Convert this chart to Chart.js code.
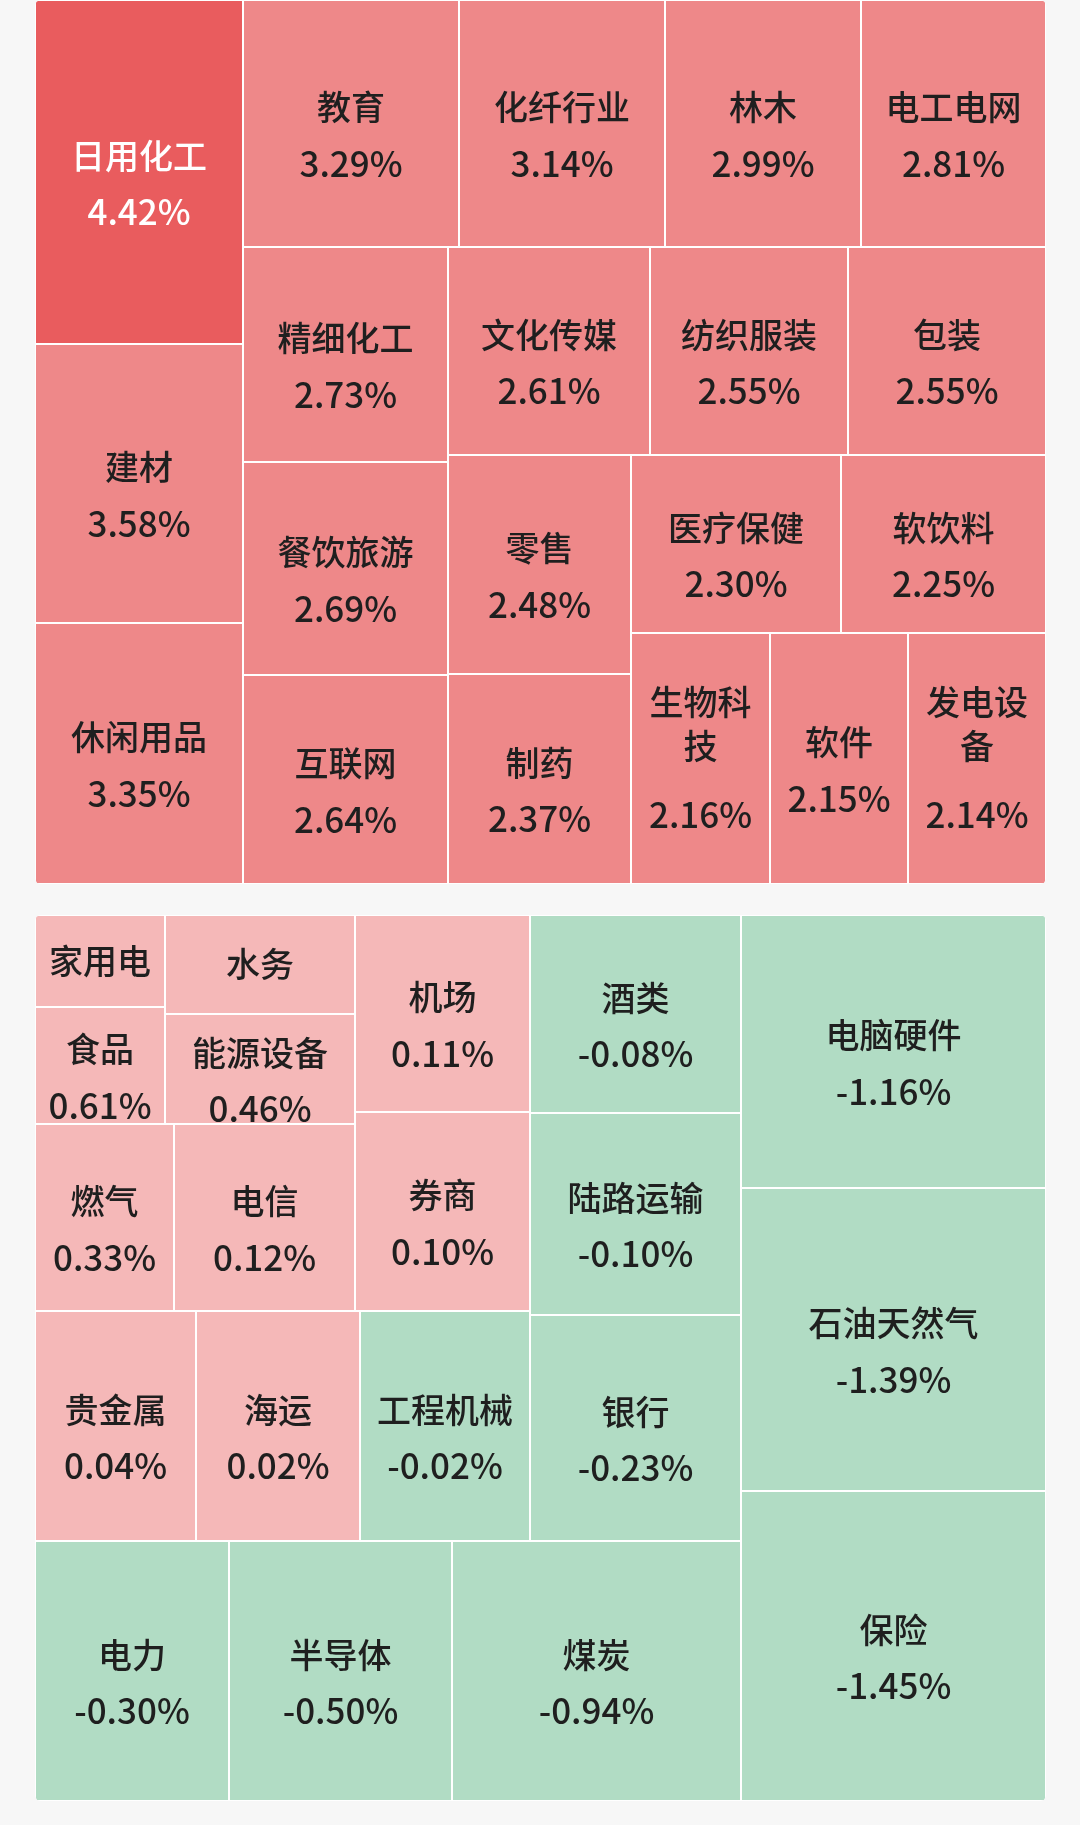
<!DOCTYPE html>
<html lang="zh-CN">
<head>
<meta charset="utf-8">
<title>行业涨跌分布</title>
<script src="https://cdn.jsdelivr.net/npm/chart.js@4.4.1/dist/chart.umd.min.js"></script>
<style>
    html, body { margin: 0; padding: 0; background: #f7f7f7; }
    body { width: 1080px; height: 1825px; position: relative; overflow: hidden; }
    #upChart { position: absolute; left: 35px; top: 0; }
    #downChart { position: absolute; left: 35px; top: 915px; }
</style>
</head>
<body>
<canvas id="upChart" width="1011" height="884"></canvas>
<canvas id="downChart" width="1011" height="886"></canvas>
<script>
// 涨幅较大的行业 (面积按涨幅)
const upNames = ['日用化工', '建材', '休闲用品', '教育', '化纤行业', '林木', '电工电网', '精细化工', '餐饮旅游', '互联网',
    '文化传媒', '纺织服装', '包装', '零售', '制药', '医疗保健', '软饮料', '生物科技', '软件', '发电设备'];
const upChanges = [4.42, 3.58, 3.35, 3.29, 3.14, 2.99, 2.81, 2.73, 2.69, 2.64,
    2.61, 2.55, 2.55, 2.48, 2.37, 2.30, 2.25, 2.16, 2.15, 2.14];

// 其余行业 (面积按 1 - 涨幅)
const downNames = ['保险', '石油天然气', '电脑硬件', '煤炭', '半导体', '电力', '银行', '陆路运输', '酒类', '工程机械',
    '海运', '贵金属', '券商', '机场', '电信', '燃气', '能源设备', '水务', '食品', '家用电器'];
const downChanges = [-1.45, -1.39, -1.16, -0.94, -0.50, -0.30, -0.23, -0.10, -0.08, -0.02,
    0.02, 0.04, 0.10, 0.11, 0.12, 0.33, 0.46, 0.51, 0.61, 0.69];

const NAME_FONT = '500 34px "Noto Sans CJK SC", "Noto Sans", sans-serif';
const VALUE_FONT = '500 35px "Noto Sans CJK SC", "Noto Sans", sans-serif';

function colorFor(v) {
    if (v >= 4) return '#e95c5e';
    if (v >= 2) return '#ee8889';
    if (v > 0) return '#f5b8b8';
    return '#b1dcc4';
}

// squarify: keep adding to the strip while the newest cell gets squarer
function squarify(weights, W, H) {
    const total = weights.reduce((a, b) => a + b, 0);
    const areas = weights.map(v => v * W * H / total);
    const aspect = (a, s, side) => {
        const t = s / side, l = a / t;
        return Math.max(t / l, l / t);
    };
    const out = [];
    let x = 0, y = 0, w = W, h = H, i = 0;
    while (i < areas.length) {
        const column = h < w;
        const side = column ? h : w;
        let sum = areas[i], best = aspect(areas[i], sum, side), j = i + 1;
        while (j < areas.length) {
            const next = aspect(areas[j], sum + areas[j], side);
            if (next > best) break;
            best = next;
            sum += areas[j];
            j++;
        }
        const thick = j === areas.length ? (column ? w : h) : sum / side;
        let off = 0;
        for (let k = i; k < j; k++) {
            const len = areas[k] / thick;
            out.push(column
                ? { x0: x, x1: x + thick, y0: y + off, y1: y + off + len }
                : { x0: x + off, x1: x + off + len, y0: y, y1: y + thick });
            off += len;
        }
        if (column) { x += thick; w -= thick; } else { y += thick; h -= thick; }
        i = j;
    }
    return out;
}

function wrapText(ctx, text, maxW) {
    const lines = [];
    let cur = '';
    for (const ch of text) {
        if (cur && ctx.measureText(cur + ch).width > maxW) {
            lines.push(cur);
            cur = ch;
        } else {
            cur += ch;
        }
    }
    lines.push(cur);
    return lines;
}

function drawLabel(ctx, c, l, t, r, b) {
    const w = r - l, h = b - t, cx = (l + r) / 2, cy = (t + b) / 2 - 3;
    ctx.save();
    ctx.beginPath();
    ctx.rect(l + 1, t + 1, w - 2, h - 2);
    ctx.clip();
    ctx.font = NAME_FONT;
    ctx.textAlign = 'center';
    ctx.textBaseline = 'middle';
    ctx.fillStyle = c.value >= 4 ? '#ffffff' : '#1f1f1f';
    const lines = wrapText(ctx, c.name, w - 16);
    const valueText = c.value.toFixed(2) + '%';
    let valueY;
    if (h < 105) {
        ctx.fillText(lines[0], cx, cy + 3);
    } else if (lines.length === 1) {
        ctx.fillText(lines[0], cx, cy - 13);
        valueY = cy + 43;
    } else {
        lines.forEach((s, k) => ctx.fillText(s, cx, cy - 53 + 44 * k));
        valueY = cy - 53 + 44 * (lines.length - 1) + 68;
    }
    if (valueY !== undefined) {
        ctx.font = VALUE_FONT;
        ctx.fillText(valueText, cx, valueY);
    }
    ctx.restore();
}

const treemapCells = {
    id: 'treemapCells',
    beforeDatasetsDraw(chart) {
        const { ctx, chartArea: a, scales: { x, y } } = chart;
        ctx.save();
        ctx.beginPath();
        ctx.roundRect(a.left, a.top, a.right - a.left, a.bottom - a.top, 6);
        ctx.fillStyle = '#ffffff';
        ctx.fill();
        ctx.clip();
        chart.data.datasets[0].data.forEach(c => {
            const px = [x.getPixelForValue(c.x0), x.getPixelForValue(c.x1)];
            const py = [y.getPixelForValue(c.y0), y.getPixelForValue(c.y1)];
            const l = Math.round(Math.min(...px)), r = Math.round(Math.max(...px));
            const t = Math.round(Math.min(...py)), b = Math.round(Math.max(...py));
            ctx.fillStyle = colorFor(c.value);
            ctx.fillRect(l + 1, t + 1, r - l - 2, b - t - 2);
            drawLabel(ctx, c, l, t, r, b);
        });
        ctx.restore();
    }
};

function makeTreemap(id, names, changes, weights, flip) {
    const canvas = document.getElementById(id);
    const W = canvas.width, H = canvas.height;
    const cells = squarify(weights, W, H).map((r, i) => ({
        ...r,
        x: (r.x0 + r.x1) / 2,
        y: (r.y0 + r.y1) / 2,
        name: names[i],
        value: changes[i]
    }));
    return new Chart(canvas, {
        type: 'scatter',
        data: { datasets: [{ data: cells, pointRadius: 0, pointHoverRadius: 0 }] },
        options: {
            responsive: false,
            animation: false,
            devicePixelRatio: 1,
            layout: { padding: 0 },
            events: [],
            plugins: { legend: { display: false }, tooltip: { enabled: false } },
            scales: {
                x: { type: 'linear', display: false, min: 0, max: W, reverse: flip },
                y: { type: 'linear', display: false, min: 0, max: H, reverse: !flip }
            }
        },
        plugins: [treemapCells]
    });
}

document.addEventListener('DOMContentLoaded', () => {
    if (!window.Chart) return;
    makeTreemap('upChart', upNames, upChanges, upChanges, false);
    // 下半部分旋转 180°：大块在右下
    makeTreemap('downChart', downNames, downChanges, downChanges.map(v => 1 - v), true);
});
</script>
</body>
</html>
